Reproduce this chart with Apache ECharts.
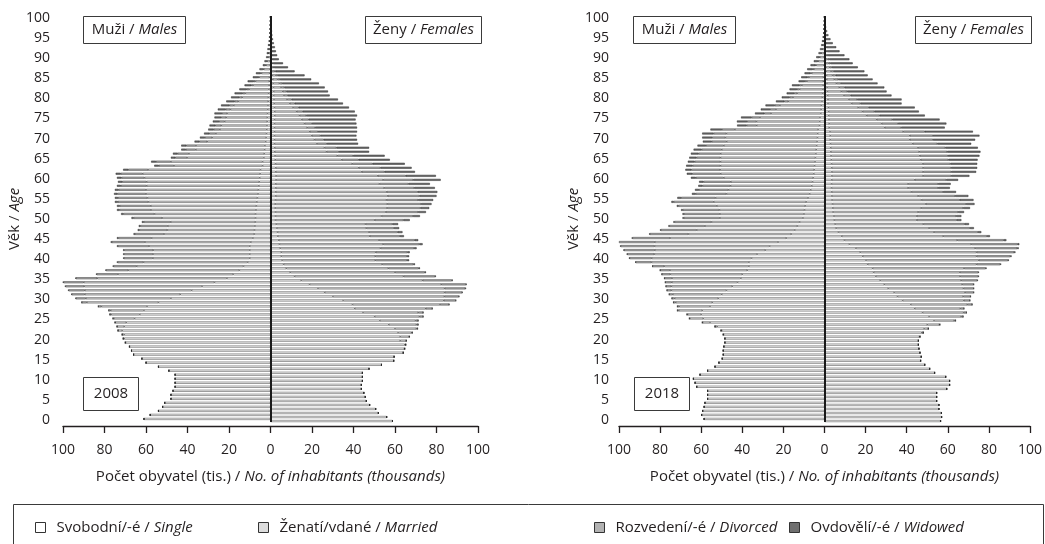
<!DOCTYPE html>
<html>
<head>
<meta charset="utf-8">
<script src="https://cdn.jsdelivr.net/npm/echarts@6/dist/echarts.min.js"></script>
<style>
html,body{margin:0;padding:0;background:#fff;}
#chart{width:1045px;height:544px;}
</style>
</head>
<body>
<div id="chart"></div>
<script>
// Ages (categories) and tick labels
const ages = ['0','1','2','3','4','5','6','7','8','9','10','11','12','13','14','15','16','17','18','19','20','21','22','23','24','25','26','27','28','29','30','31','32','33','34','35','36','37','38','39','40','41','42','43','44','45','46','47','48','49','50','51','52','53','54','55','56','57','58','59','60','61','62','63','64','65','66','67','68','69','70','71','72','73','74','75','76','77','78','79','80','81','82','83','84','85','86','87','88','89','90','91','92','93','94','95','96','97','98','99','100'];
const xTicks = [-100, -80, -60, -40, -20, 0, 20, 40, 60, 80, 100];

// ===== 2008, males (thousands) =====
const m08Single = [61,58,54,52,51,48,48,47,46,46,46,46,49,54,60,62,66,67,
  67.9,69.8,70.5,70.5,71.5,70.5,69.5,65.5,63,61,59.5,54,
  48,43.5,38,33,27,21,18,15,13,11,
  10,10,10,10,9.5,8.5,7.8,7.7,7.5,7.3,
  7.2,7.2,7,6.8,6.6,6.3,6,5.8,5.6,5.4,
  5.2,5,4.8,3.8,3.8,3.2,3,2.8,2.7,2.3,
  2.1,1.9,1.8,1.7,1.6,1.5,1.4,1.3,1.2,1.1,
  1,0.9,0.8,0.7,0.6,0.5,0.4,0.3,0.2,0.2,
  0.1,0.1,0.1,0.1,0.05,0.05,0.03,0.02,0.02,0.01,0.01];
const m08Married = [0,0,0,0,0,0,0,0,0,0,0,0,0,0,0,0,0,0,
  0.1,0.2,0.5,1,2,3.4,5.3,10,13.8,16,22,34.5,
  41,46,51.5,56.8,63,62.5,55.5,53.5,51.5,50.2,
  46.7,46.6,46.5,48.5,51,48.8,43.5,42,42,40.8,
  45,48.7,50.6,50.9,52.2,53,54,54.2,54.1,54.3,
  55.5,56.6,54.2,42.7,44.2,37,36.3,33.2,33.2,28.2,
  26,24.4,22.6,22,20.5,19.8,19.5,18,16.5,14.4,
  12.6,11.2,9.5,7.7,6.6,4.9,3.9,2.9,1.9,1.4,
  1,0.8,0.6,0.5,0.35,0.25,0.17,0.13,0.1,0.06,0.05];
const m08Divorced = [0,0,0,0,0,0,0,0,0,0,0,0,0,0,0,0,0,0,
  0,0,0,0,0,0.1,0.2,0.5,0.7,1,1.5,2.5,
  4.8,6.3,7.8,9,9.8,10.3,10.3,10.8,11.2,12.5,
  14,14,14,15,16,16,14,13.5,13.2,13,
  13.8,15,15.2,15,14.8,14.2,13.8,13.2,12.4,11.8,
  11.1,10.6,9.6,7.3,7.2,5.7,5.5,4.8,4.7,3.8,
  3.5,3.2,3,2.9,2.7,2.5,2.5,2.3,2.1,1.8,
  1.5,1.3,1.1,0.9,0.8,0.6,0.5,0.4,0.3,0.2,
  0.2,0.1,0.1,0.1,0.05,0.05,0.03,0.02,0.01,0.01,0.01];
const m08Widowed = [0,0,0,0,0,0,0,0,0,0,0,0,0,0,0,0,0,0,0,0,0,0,0,0,0,0,0,0,0,0,
  0.2,0.2,0.2,0.2,0.2,0.2,0.2,0.2,0.3,0.3,
  0.3,0.4,0.5,0.5,0.5,0.7,0.7,0.8,0.8,0.9,
  1,1.1,1.2,1.3,1.4,1.5,1.6,1.8,1.9,2,
  2.2,2.4,2.4,2.2,2.3,2.1,2.2,2.2,2.4,2.3,
  2.4,2.5,2.6,2.8,3,3.2,3.6,3.8,4,4,
  3.9,3.9,3.6,3.2,3,2.5,2.2,1.7,1.3,1.1,
  0.8,0.8,0.7,0.5,0.45,0.35,0.27,0.23,0.17,0.12,0.1];

// ===== 2008, females =====
const f08Single = [58.8,56,52,50.7,47.8,46.2,45.7,45,43.8,43.8,44.3,44.3,44.3,47.5,53.5,59.4,59.6,64,
  64.5,64.7,62.5,62.5,61.5,60,57,52.7,50.2,44.6,40.6,39.5,
  35,30.1,26.1,22.9,18.8,14.8,11.6,9.5,7.6,6.3,
  5.6,5.2,5.2,4.7,4.3,4,3.5,3.4,3.1,2.8,
  2.4,2.4,2.4,2.3,2.3,2.4,2.5,2.5,2.5,2.5,
  2.7,2.7,2.5,2.5,2.4,2.3,2.2,2,2,1.9,
  1.9,1.9,1.9,1.9,1.9,1.9,2,2,1.9,1.8,
  1.7,1.5,1.5,1.4,1.3,1.1,0.9,0.7,0.5,0.4,
  0.3,0.2,0.2,0.15,0.1,0.08,0.06,0.05,0.04,0.03,0.02];
const f08Married = [0,0,0,0,0,0,0,0,0,0,0,0,0,0,0,0,0,0,
  0.2,0.5,2.9,4.3,6.5,10.3,13.3,17.2,21.6,26.6,34.2,42.2,
  48.5,53.7,57.8,61,63.5,58.5,52.5,50.5,49.2,47.5,
  44.9,45.3,45.5,48.3,50,48.3,44.3,44.1,43.1,43,
  47.8,51.1,53.2,53.9,54,53.5,54,53.5,52.3,50,
  51.6,49,41.5,40,37,32,30,25,24,20.5,
  19.3,18,17,15.8,14.5,13.2,12,10.6,9,7.5,
  6.3,5,4.4,3.7,3,2.3,1.7,1.1,0.7,0.5,
  0.3,0.2,0.15,0.1,0.08,0.05,0.04,0.03,0.02,0.01,0.01];
const f08Divorced = [0,0,0,0,0,0,0,0,0,0,0,0,0,0,0,0,0,0,0,0,
  0.1,0.2,0.4,0.6,0.9,1.3,1.8,2.4,3.2,4.4,
  5.8,7,8.5,10,11.9,14.1,15.2,14.4,14.6,15.1,
  15.3,15.3,15.3,16.2,17.5,17.2,14.6,13.8,13.3,13,
  13.9,15.2,15.6,16.1,16.3,15.3,15.3,15,14.5,14,
  14.5,13.5,11,10.5,9.8,8.2,7.6,6,5.8,4.8,
  4.5,4.2,4,3.8,3.6,3.3,3.2,3,2.7,2.4,
  2.2,1.9,1.8,1.6,1.4,1.2,1,0.7,0.5,0.35,
  0.2,0.15,0.1,0.1,0.07,0.05,0.04,0.03,0.02,0.01,0.01];
const f08Widowed = [0,0,0,0,0,0,0,0,0,0,0,0,0,0,0,0,0,0,0,0,0,0,0,0,0,0,0,0,0,0.1,
  0.1,0.2,0.2,0.3,0.3,0.4,0.4,0.5,0.6,0.7,
  1,1,1.1,1.2,1.5,1.7,1.9,2.3,2.5,2.7,
  3,3.3,3.7,4.2,5,7.2,8.2,9.4,9.9,10.3,
  13.2,14.5,14.6,15,15.5,15,15.2,14.5,15.7,15,
  16,17.3,18.8,20.2,21.4,22.6,24.5,25,24.2,23.2,
  22.3,20.1,20,19.4,17.6,15,12.8,9.1,6.7,4.75,
  3.2,2.65,2.15,1.75,1.35,1.02,0.76,0.59,0.42,0.3,0.21];

// ===== 2018, males =====
const m18Single = [58.6,59.8,59.3,58.6,58.2,56.9,56.9,56.9,62.2,63,63.8,60.6,56.9,53.3,51.4,49.8,49.3,49.3,49,48.5,48.5,49.1,
  50,52.2,55.7,59,60,59.5,55.7,54.6,
  51.7,50,47.7,44.9,42.3,40.7,40,37.6,36.8,36.8,
  35.5,32.8,28.8,26.7,22.6,18.6,16.2,14.5,13.2,12.1,
  10.5,10,9.7,9.4,8.9,8,7.2,6.7,6.2,5.8,
  5.5,5.2,5,4.8,4.6,4.4,4.2,4,3.8,3.6,
  3.4,3.3,3.1,2.4,2.3,2.2,1.8,1.6,1.5,1.2,
  1,0.9,0.8,0.7,0.55,0.5,0.4,0.35,0.3,0.25,
  0.2,0.15,0.1,0.08,0.06,0.05,0.04,0.03,0.02,0.02,0.01];
const m18Married = [0,0,0,0,0,0,0,0,0,0,0,0,0,0,0,0,0,0,0,0,0,0.2,
  0.4,1.1,3.6,6.5,6.6,11.4,15,17.8,
  21.2,23.8,26.8,29.6,32,33.5,35,37.6,41.2,47.4,
  48.6,50,53.8,56,60,56.5,50,47.7,45,42.9,
  40.4,40.9,41.4,43,45,45,40.5,40,39.5,39.8,
  43.5,45.3,45.8,45.8,46,46.2,46.3,46,45.2,44,
  44.8,44.4,40.5,30.6,30.8,29.2,24.2,22,20.2,16.4,
  14.3,12.4,11.3,10.3,8,7,5.8,4.8,3.7,2.7,
  2,1.35,1,0.7,0.5,0.35,0.22,0.15,0.1,0.06,0.04];
const m18Divorced = [0,0,0,0,0,0,0,0,0,0,0,0,0,0,0,0,0,0,0,0,0,0,0,0,
  0.2,0.3,0.4,0.7,0.9,1.1,
  1.4,1.8,2.2,2.7,3.2,3.7,4.2,4.8,5.7,7.7,
  10.8,13.2,15,16.5,17.4,18.4,18.8,17.5,17.3,18,
  17.6,17.5,17.9,18.6,19.5,16.8,15,14.4,13.7,13.3,
  13.6,13.9,14,13.6,12.6,11.7,10.8,9.8,8.7,7.3,
  6.5,6.3,6.3,4.9,4.6,4.1,3.3,2.9,2.5,2,
  1.7,1.5,1.3,1.2,0.95,0.85,0.7,0.6,0.5,0.35,
  0.3,0.2,0.15,0.1,0.08,0.06,0.04,0.03,0.02,0.01,0.01];
const m18Widowed = [0,0,0,0,0,0,0,0,0,0,0,0,0,0,0,0,0,0,0,0,0,0,0,0,0,0,0,0,0,0,0,0,0,0,0,0,0,0,0,0.1,
  0.1,0.1,0.1,0.2,0.2,0.2,0.3,0.3,0.4,0.5,
  0.6,0.7,0.8,0.9,1.1,1.8,1.8,1.9,2,2.1,
  2.4,2.6,2.9,3.1,3.3,3.5,3.7,3.9,4.1,4.3,
  4.8,5.5,5.6,4.6,4.9,5.1,4.5,4.5,4.5,4,
  3.8,3.6,3.6,3.6,3.1,2.95,2.8,2.65,2.3,1.9,
  1.5,1.2,0.95,0.72,0.56,0.44,0.3,0.24,0.16,0.11,0.09];

// ===== 2018, females =====
const f18Single = [56.5,57,56.9,55.7,55.7,54.6,54.6,54.6,59.5,60.9,60.9,59,53.6,51.2,48.8,46.8,47.1,46.5,46,45.7,45.7,46.2,
  47.3,48.5,50,53.3,50.9,47.7,43.9,42,
  38,35.5,33.9,31,29.1,27.1,25,23.9,23.4,21,
  20.2,18.6,17.4,15.3,12.1,9.7,8.4,6.8,5.7,5.2,
  4.8,4.6,4.2,4,3.9,3.7,3.6,3.5,3.4,3.4,
  3.5,3.6,3.6,3.5,3.4,3.3,3.2,3.1,3,2.9,
  2.8,2.8,2.7,2.3,2.3,2.2,2,2,1.9,1.7,
  1.7,1.5,1.4,1.3,1.2,1.1,1,0.9,0.8,0.7,
  0.6,0.5,0.4,0.3,0.2,0.16,0.11,0.08,0.05,0.03,0.02];
const f18Married = [0,0,0,0,0,0,0,0,0,0,0,0,0,0,0,0,0,0,0,0,0,0.3,
  0.8,2,5.9,9.8,15.6,20,22.2,27.5,
  29.8,32,34.5,36.6,37.9,39.4,41,42,44.5,53,
  54.9,55.4,56.6,58,59.3,54.9,49.4,46.5,45.2,42.9,
  40.1,40.3,41.4,43.1,45.4,43.5,42,38.8,37.3,37.3,
  40.4,44.4,44.4,44.5,44.5,43.5,43.2,43,42.5,40,
  38.7,38.7,35.6,27,25.5,23.2,18.5,16.5,14.5,11.5,
  10.2,8,6.8,5.9,4.6,3.7,2.9,2.3,1.7,1.2,
  0.9,0.6,0.4,0.3,0.18,0.12,0.07,0.05,0.03,0.02,0.01];
const f18Divorced = [0,0,0,0,0,0,0,0,0,0,0,0,0,0,0,0,0,0,0,0,0,0,0,
  0.1,0.3,0.7,1,1.4,1.8,2.4,
  3,3.6,4.2,5,5.6,7.9,8.9,9,10.6,11.6,
  14.2,16.5,18.3,20.5,22.6,22.6,21.3,21.4,19.9,20.1,
  19.5,19.2,19.5,20.4,19.6,18.6,18,15.4,14.6,14.6,
  15.4,13.7,13.7,13.6,13.4,13.5,13.7,13.6,13.3,12,
  11.3,11.3,10.5,8,8,7.6,6.3,5.8,5.2,4.3,
  4,3.3,2.9,2.6,2.2,1.9,1.6,1.4,1.1,0.9,
  0.8,0.6,0.45,0.35,0.25,0.18,0.12,0.08,0.05,0.03,0.02];
const f18Widowed = [0,0,0,0,0,0,0,0,0,0,0,0,0,0,0,0,0,0,0,0,0,0,0,0,0,0,0,0,0,0,0,0,
  0.1,0.1,0.1,0.2,0.2,0.2,0.3,0.3,
  0.4,0.5,0.6,0.7,0.8,1.3,1.4,1.6,1.9,2.1,
  2.2,2.5,2.8,3.3,4.1,6.7,6.4,6.3,5.7,6.1,
  5.7,8.8,12.1,12.7,13,14.2,15.3,16.2,15.8,16.5,
  20.5,22.6,23.4,21.2,23.5,23,22,21.6,22.3,20,
  21.6,19.8,19.1,19.3,17.8,16.7,15.5,14.8,12.6,10.9,
  9.8,8,6.05,4.75,3.37,2.44,1.6,1.09,0.67,0.42,0.25];

// ===== labels & styling =====
const statusNames = ['Single', 'Married', 'Divorced', 'Widowed'];
const statusCz = {Single: 'Svobodní/-é', Married: 'Ženatí/vdané', Divorced: 'Rozvedení/-é', Widowed: 'Ovdovělí/-é'};
const statusColors = ['#ffffff', '#dcdcdc', '#b2b2b2', '#6f6f6f'];
const legendLeft = [35, 258, 594, 789];

const FONT = '"Open Sans", "Noto Sans", sans-serif';
const INK = '#231f20';
const FS = 15;

const panels = [
  {year: '2008', males: [m08Single, m08Married, m08Divorced, m08Widowed], females: [f08Single, f08Married, f08Divorced, f08Widowed]},
  {year: '2018', males: [m18Single, m18Married, m18Divorced, m18Widowed], females: [f18Single, f18Married, f18Divorced, f18Widowed]}
];

const grids = [
  {left: 63, top: 16, width: 415, height: 406},
  {left: 619, top: 16, width: 412, height: 406}
];

const richName = {a: {color: INK, fontFamily: FONT, fontSize: FS},
                  b: {color: INK, fontFamily: FONT, fontSize: FS, fontStyle: 'italic'}};

const xAxes = grids.map((g, i) => ({
  type: 'value', gridIndex: i, min: -100, max: 100, interval: 20,
  offset: 4,
  axisLine: {show: true, onZero: false, lineStyle: {color: INK, width: 1.3}},
  axisTick: {show: true, length: 7, lineStyle: {color: INK, width: 1.3}},
  axisLabel: {color: INK, fontFamily: FONT, fontSize: 14, margin: 17,
    formatter: v => String(Math.abs(v))},
  splitLine: {show: false},
  name: '{a|Počet obyvatel (tis.) / }{b|No. of inhabitants (thousands)}',
  nameLocation: 'middle', nameGap: 43,
  nameTextStyle: {color: INK, fontFamily: FONT, fontSize: FS, rich: richName}
}));

const yAxes = grids.map((g, i) => ({
  type: 'category', gridIndex: i, data: ages,
  axisLine: {show: false, onZero: false},
  axisTick: {show: false},
  axisLabel: {interval: 4, color: INK, fontFamily: FONT, fontSize: 14, margin: i === 0 ? 13 : 10},
  name: '{a|Věk / }{b|Age}',
  nameLocation: 'middle', nameRotate: 90, nameGap: i === 0 ? 36 : 34,
  nameTextStyle: {color: INK, fontFamily: FONT, fontSize: FS, rich: richName}
}));

const barStyle = k => ({color: statusColors[k], borderColor: '#222', borderWidth: 0.45});

const series = [];
panels.forEach((p, pi) => {
  statusNames.forEach((name, k) => {
    series.push({
      type: 'bar', name: name, xAxisIndex: pi, yAxisIndex: pi,
      stack: 'm' + pi, barCategoryGap: '0%',
      itemStyle: barStyle(k),
      emphasis: {disabled: true},
      data: p.males[k].map(v => -v)
    });
  });
  statusNames.forEach((name, k) => {
    const s = {
      type: 'bar', name: name, xAxisIndex: pi, yAxisIndex: pi,
      stack: 'f' + pi, barCategoryGap: '0%',
      itemStyle: barStyle(k),
      emphasis: {disabled: true},
      data: p.females[k]
    };
    if (k === 3) {
      s.markLine = {silent: true, symbol: 'none', animation: false,
        label: {show: false},
        lineStyle: {color: '#1a1a1a', width: 2, type: 'solid'},
        data: [{xAxis: 0}]};
    }
    series.push(s);
  });
});

const legends = statusNames.map((name, k) => ({
  data: [name], left: legendLeft[k], top: 520, padding: 0,
  icon: 'rect', itemWidth: 10, itemHeight: 10,
  itemStyle: {borderColor: '#333', borderWidth: 1},
  selectedMode: false,
  formatter: n => '{n|' + statusCz[n] + ' / }{i|' + n + '}',
  textStyle: {color: INK, fontFamily: FONT, fontSize: FS,
    rich: {n: {color: INK, fontFamily: FONT, fontSize: FS, padding: [0, 0, 0, 6]},
           i: {color: INK, fontFamily: FONT, fontSize: FS, fontStyle: 'italic'}}}
}));

function labelBox(x, y, w, h, text) {
  return {
    type: 'group', silent: true,
    children: [
      {type: 'rect', shape: {x: x, y: y, width: w, height: h},
       style: {fill: '#fff', stroke: '#3a3a3a', lineWidth: 1}},
      {type: 'text', x: x + w / 2, y: y + h / 2,
       style: {text: text, align: 'center', verticalAlign: 'middle', fill: INK,
         font: FS + 'px ' + FONT,
         rich: {a: {fontFamily: FONT, fontSize: FS, fill: INK},
                b: {fontFamily: FONT, fontSize: FS, fontStyle: 'italic', fill: INK}}}}
    ]
  };
}

const graphics = [
  labelBox(83.5, 16.5, 102, 27, '{a|Muži / }{b|Males}'),
  labelBox(365.5, 16.5, 116, 27, '{a|Ženy / }{b|Females}'),
  labelBox(83.5, 377.5, 55, 33, '{a|' + panels[0].year + '}'),
  labelBox(633.5, 16.5, 102, 27, '{a|Muži / }{b|Males}'),
  labelBox(915.5, 16.5, 116, 27, '{a|Ženy / }{b|Females}'),
  labelBox(634.5, 377.5, 55, 33, '{a|' + panels[1].year + '}'),
  {type: 'rect', silent: true, shape: {x: 13.5, y: 504.5, width: 1030, height: 60},
   style: {fill: 'none', stroke: '#3a3a3a', lineWidth: 1}}
];

const chart = echarts.init(document.getElementById('chart'), null, {renderer: 'canvas'});
chart.setOption({
  animation: false,
  backgroundColor: '#ffffff',
  textStyle: {fontFamily: FONT},
  grid: grids,
  xAxis: xAxes,
  yAxis: yAxes,
  legend: legends,
  series: series,
  graphic: graphics
});
</script>
</body>
</html>
